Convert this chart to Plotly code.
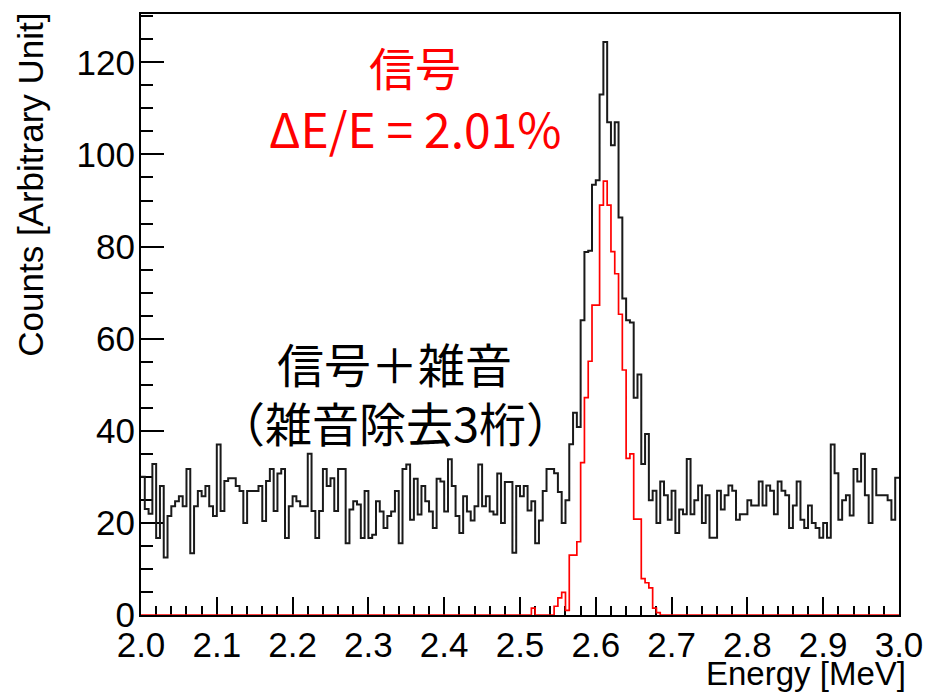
import numpy as np
import plotly.graph_objects as go

# ---- data -------------------------------------------------------------
x_min = 2.0
x_max = 3.0
n_bins = 200

# "信号＋雑音" histogram (black), 200 bins of 5 keV
signal_plus_noise = [
    30, 23, 22, 32.8, 16.7, 28, 12.5, 21.5, 23.6, 24.7, 25.8, 23.6, 31.7, 13.4, 23.6, 26.9, 25.8, 28, 23.6, 21.5,
    37, 22.6, 29.1, 29.7, 29.7, 28, 26.9, 20, 26.9, 26.9, 26.9, 28, 20.4, 29.1, 31.7, 22.6, 30.7, 31.7, 16.7, 23.6,
    25.8, 24.7, 23.6, 23.6, 35, 22.6, 16.7, 22.6, 31.7, 28, 29.7, 22.6, 31.7, 31.7, 15.6, 22.9, 24.7, 24, 16.7, 26.9,
    16.7, 17.4, 24.7, 22.5, 18.9, 21.5, 22.5, 26.9, 15.6, 31.7, 32.7, 20.7, 29.6, 21.8, 28, 24.7, 22.5, 18.9, 29.6, 29,
    22.5, 33.8, 28, 21.5, 17.8, 25.8, 22.5, 20.5, 23.6, 32.7, 23.6, 25.8, 22.5, 21.8, 30.7, 20, 28.9, 28.9, 13.5, 28,
    25.8, 28, 22.7, 24.7, 15.6, 20.5, 26.9, 31.7, 31.7, 30.8, 26.7, 20, 24.9, 37.1, 43.9, 40.8, 64, 78.8, 79.1, 93.4,
    94.4, 113, 124.4, 107, 102, 107, 86.3, 68.7, 64, 63.5, 47.2, 52.2, 32.8, 39.3, 24.9, 27, 20, 29, 26, 20.7,
    27, 17.8, 22.9, 21.9, 33.9, 21.9, 24.9, 28.1, 20, 26, 16.8, 16.8, 27, 22.9, 26, 28.1, 27, 20.7, 21.9, 21.9,
    24.9, 23.8, 23.8, 29, 23.8, 28.1, 27, 21.9, 29, 27, 26, 18.9, 23.8, 29, 20.7, 18.9, 23.8, 20, 18.9, 16.8,
    20, 16.8, 37, 30.8, 20.7, 24.9, 26, 21.6, 31.7, 29, 35, 26, 20, 31.7, 26, 26, 26, 24.9, 20.7, 29.8,
]

# "信号" histogram (red)
signal = [
    0, 0, 0, 0, 0, 0, 0, 0, 0, 0, 0, 0, 0, 0, 0, 0, 0, 0, 0, 0,
    0, 0, 0, 0, 0, 0, 0, 0, 0, 0, 0, 0, 0, 0, 0, 0, 0, 0, 0, 0,
    0, 0, 0, 0, 0, 0, 0, 0, 0, 0, 0, 0, 0, 0, 0, 0, 0, 0, 0, 0,
    0, 0, 0, 0, 0, 0, 0, 0, 0, 0, 0, 0, 0, 0, 0, 0, 0, 0, 0, 0,
    0, 0, 0, 0, 0, 0, 0, 0, 0, 0, 0, 0, 0, 0, 0, 0, 0, 0, 0, 0,
    0, 0, 0, 1.5, 0, 0, 0, 0, 0, 1.9, 3.7, 4.9, 1, 13, 13, 15.9, 33.1, 47.2, 55.1, 67.3,
    67.3, 89, 94.2, 89, 78.9, 74.1, 65.3, 53.2, 34, 35, 20.8, 20.8, 7.9, 7, 5.9, 1.5, 0.5, 0, 0, 0,
    0, 0, 0, 0, 0, 0, 0, 0, 0, 0, 0, 0, 0, 0, 0, 0, 0, 0, 0, 0,
    0, 0, 0, 0, 0, 0, 0, 0, 0, 0, 0, 0, 0, 0, 0, 0, 0, 0, 0, 0,
    0, 0, 0, 0, 0, 0, 0, 0, 0, 0, 0, 0, 0, 0, 0, 0, 0, 0, 0, 0,
]

x_tick_vals = [2.0, 2.1, 2.2, 2.3, 2.4, 2.5, 2.6, 2.7, 2.8, 2.9, 3.0]
x_tick_text = ["2.0", "2.1", "2.2", "2.3", "2.4", "2.5", "2.6", "2.7", "2.8", "2.9", "3.0"]
y_tick_vals = [0, 20, 40, 60, 80, 100, 120]
y_tick_text = ["0", "20", "40", "60", "80", "100", "120"]

x_title = "Energy [MeV]"
y_title = "Counts [Arbitrary Unit]"
label_signal = "信号"
label_resolution = "ΔE/E = 2.01%"
label_mix = "信号＋雑音"
label_mix_note = "（雑音除去3桁）"

# ---- figure -----------------------------------------------------------
edges = np.linspace(x_min, x_max, n_bins + 1)


def step(values):
    return list(edges), list(values) + [values[-1]]


fig = go.Figure()
bx, by = step(signal_plus_noise)
fig.add_trace(go.Scatter(x=bx, y=by, mode="lines", line=dict(shape="hv", color="#1a1a1a", width=2),
                         hoverinfo="skip", showlegend=False))
rx, ry = step(signal)
fig.add_trace(go.Scatter(x=rx, y=ry, mode="lines", line=dict(shape="hv", color="#ff0000", width=1.7),
                         hoverinfo="skip", showlegend=False))

sans = "Liberation Sans, Arial, sans-serif"
tick_font = dict(family=sans, size=35, color="black")

fig.update_layout(
    width=935, height=693,
    margin=dict(l=141, r=29, t=12, b=78),
    paper_bgcolor="white", plot_bgcolor="white",
    xaxis=dict(
        range=[x_min, x_max], tickvals=x_tick_vals, ticktext=x_tick_text,
        ticks="inside", ticklen=18, tickwidth=1.5, tickcolor="black",
        showline=True, linecolor="black", linewidth=2, mirror=True,
        showgrid=False, zeroline=False, tickfont=tick_font, layer="below traces",
        ticklabelstandoff=-2,
        minor=dict(dtick=0.02, tick0=2.0, ticks="inside", ticklen=9, tickwidth=1.5,
                   tickcolor="black", showgrid=False),
    ),
    yaxis=dict(
        range=[0, 130.5], tickvals=y_tick_vals, ticktext=y_tick_text,
        ticks="inside", ticklen=23, tickwidth=1.5, tickcolor="black",
        showline=True, linecolor="black", linewidth=2, mirror=True,
        showgrid=False, zeroline=False, tickfont=tick_font, layer="below traces",
        ticklabelstandoff=-3,
        minor=dict(dtick=5, tick0=0, ticks="inside", ticklen=12, tickwidth=1.5,
                   tickcolor="black", showgrid=False),
    ),
    annotations=[
        dict(text=x_title, xref="paper", yref="paper", x=1.012, y=-0.0975, xanchor="right", yanchor="middle",
             showarrow=False, font=dict(family=sans, size=33, color="black")),
        dict(text=y_title, xref="paper", yref="paper", x=-0.146, y=1.006, xanchor="center", yanchor="top",
             textangle=-90, showarrow=False, font=dict(family=sans, size=35, color="black")),
        dict(text=label_signal, xref="paper", yref="paper", x=0.362, y=0.914, xanchor="center", yanchor="middle",
             showarrow=False, font=dict(family="Noto Sans CJK JP", size=46, color="#ff0000")),
        dict(text=label_resolution, xref="paper", yref="paper", x=0.362, y=0.812, xanchor="center", yanchor="middle",
             showarrow=False, font=dict(family="Noto Sans CJK JP", size=48, color="#ff0000")),
        dict(text=label_mix, xref="paper", yref="paper", x=0.3346, y=0.42, xanchor="center", yanchor="middle",
             showarrow=False, font=dict(family="Noto Sans CJK JP", size=47, color="black")),
        dict(text=label_mix_note, xref="paper", yref="paper", x=0.336, y=0.322, xanchor="center", yanchor="middle",
             showarrow=False, font=dict(family="Noto Sans CJK JP", size=47, color="black")),
    ],
)

fig.write_html("out.html")
